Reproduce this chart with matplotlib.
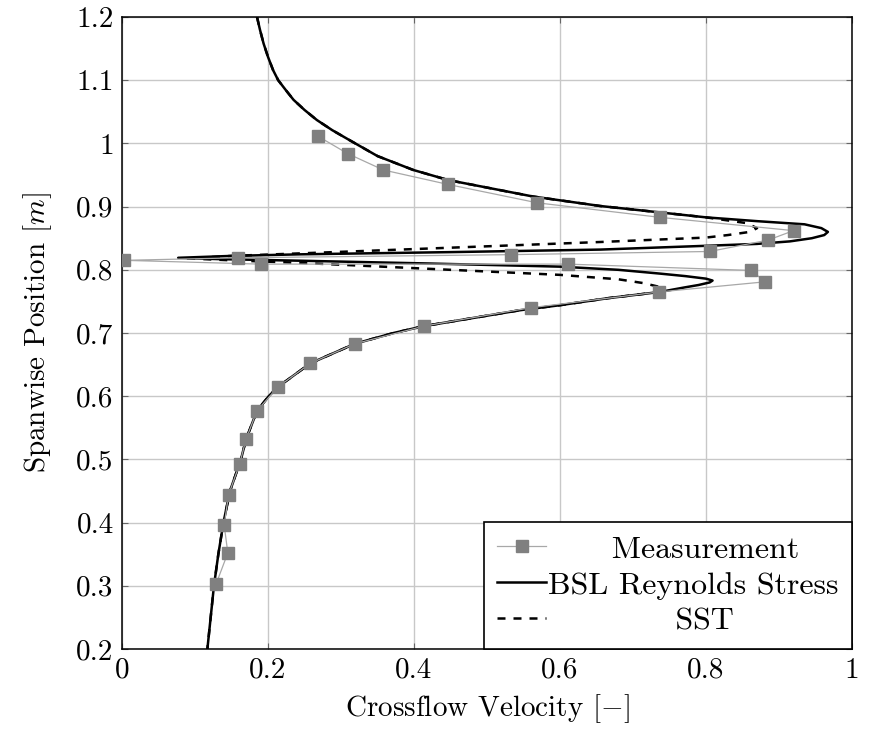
import numpy as np
import matplotlib
matplotlib.use("Agg")
import matplotlib.pyplot as plt
from matplotlib.ticker import FixedLocator, FuncFormatter

plt.rcParams["font.family"] = "serif"
plt.rcParams["font.serif"] = ["cmr10", "DejaVu Serif"]
plt.rcParams["mathtext.fontset"] = "cm"
plt.rcParams["axes.unicode_minus"] = False
plt.rcParams["axes.formatter.use_mathtext"] = True

meas_y = [1.011, 0.984, 0.958, 0.935, 0.906, 0.883, 0.862, 0.847, 0.829,
          0.824, 0.819, 0.815, 0.809, 0.809, 0.799, 0.781, 0.765, 0.740,
          0.711, 0.683, 0.652, 0.615, 0.577, 0.532, 0.492, 0.444, 0.396,
          0.352, 0.303]
meas_x = [0.269, 0.309, 0.358, 0.447, 0.569, 0.737, 0.920, 0.885, 0.805,
          0.533, 0.159, 0.003, 0.190, 0.611, 0.862, 0.881, 0.736, 0.560,
          0.414, 0.319, 0.258, 0.214, 0.185, 0.170, 0.161, 0.146, 0.140,
          0.145, 0.129]

# -- BSL Reynolds Stress profile -----------------------------------
bsl_y = [1.200, 1.180, 1.158, 1.137, 1.116, 1.100, 1.085, 1.069, 1.053,
         1.037, 1.021, 1.005, 0.980, 0.958, 0.942, 0.916, 0.901, 0.883,
         0.877, 0.872, 0.866, 0.860, 0.855, 0.850, 0.845, 0.841, 0.838,
         0.832, 0.828, 0.8245, 0.822, 0.819, 0.817, 0.8144, 0.810, 0.805,
         0.800, 0.794, 0.790, 0.786, 0.783, 0.780, 0.776, 0.772, 0.765,
         0.755, 0.744, 0.736, 0.711, 0.700, 0.683, 0.652, 0.615, 0.600,
         0.577, 0.550, 0.532, 0.500, 0.450, 0.400, 0.350, 0.300, 0.250,
         0.200]
bsl_x = [0.185, 0.189, 0.194, 0.200, 0.207, 0.214, 0.224, 0.235, 0.250,
         0.267, 0.288, 0.312, 0.350, 0.399, 0.447, 0.563, 0.655, 0.800,
         0.870, 0.935, 0.958, 0.967, 0.962, 0.945, 0.915, 0.870, 0.800,
         0.655, 0.450, 0.244, 0.150, 0.077, 0.130, 0.244, 0.420, 0.600,
         0.680, 0.737, 0.772, 0.800, 0.809, 0.805, 0.790, 0.770, 0.737,
         0.665, 0.600, 0.545, 0.414, 0.372, 0.319, 0.258, 0.214, 0.201,
         0.185, 0.176, 0.170, 0.163, 0.148, 0.139, 0.132, 0.126, 0.1215,
         0.117]

# -- SST profile ---------------------------------------------------
sst_y = [1.200, 1.180, 1.158, 1.137, 1.116, 1.100, 1.085, 1.069, 1.053,
         1.037, 1.021, 1.005, 0.980, 0.958, 0.942, 0.916, 0.901, 0.883,
         0.874, 0.866, 0.860, 0.855, 0.851, 0.844, 0.835, 0.826, 0.822,
         0.818, 0.815, 0.811, 0.800, 0.792, 0.785, 0.779, 0.772, 0.765,
         0.755, 0.744, 0.736, 0.711, 0.700, 0.683, 0.652, 0.615, 0.600,
         0.577, 0.550, 0.532, 0.500, 0.450, 0.400, 0.350, 0.300, 0.250,
         0.200]
sst_x = [0.185, 0.189, 0.194, 0.200, 0.207, 0.214, 0.224, 0.235, 0.250,
         0.267, 0.288, 0.312, 0.350, 0.399, 0.447, 0.563, 0.655, 0.800,
         0.855, 0.870, 0.860, 0.830, 0.800, 0.655, 0.450, 0.244, 0.150,
         0.090, 0.150, 0.244, 0.450, 0.600, 0.680, 0.714, 0.740, 0.737,
         0.665, 0.600, 0.545, 0.414, 0.372, 0.319, 0.258, 0.214, 0.201,
         0.185, 0.176, 0.170, 0.163, 0.148, 0.139, 0.132, 0.126, 0.1215,
         0.117]

x_ticks = [0, 0.2, 0.4, 0.6, 0.8, 1.0]
y_ticks = [0.2, 0.3, 0.4, 0.5, 0.6, 0.7, 0.8, 0.9, 1.0, 1.1, 1.2]

fig = plt.figure(figsize=(8.7, 7.31), dpi=100)
ax = fig.add_axes([0.1402, 0.1122, 0.8391, 0.8645])

ax.plot(meas_x, meas_y, color="#a8a8a8", lw=0.9, marker="s", ms=9,
        mfc="#808080", mec="#808080", label="      Measurement", zorder=5)
ax.plot(bsl_x, bsl_y, color="black", lw=1.8,
        label="BSL Reynolds Stress", zorder=3)
ax.plot(sst_x, sst_y, color="black", lw=1.8, ls=(0, (3.2, 3.2)),
        label="            SST", zorder=4)

ax.set_xlim(0, 1)
ax.set_ylim(0.2, 1.2)
ax.xaxis.set_major_locator(FixedLocator(x_ticks))
ax.yaxis.set_major_locator(FixedLocator(y_ticks))
fmt = FuncFormatter(lambda v, p: "%g" % round(v, 2))
ax.xaxis.set_major_formatter(fmt)
ax.yaxis.set_major_formatter(fmt)
ax.tick_params(labelsize=21, direction="in", length=4, color="#666666",
               top=True, right=True, pad=6)
ax.grid(True, color="#c8c8c8", lw=1.0)
ax.set_axisbelow(True)
for sp in ax.spines.values():
    sp.set_linewidth(1.1)

ax.set_xlabel(r"Crossflow Velocity $[-]$", fontsize=21, labelpad=6)
ax.set_ylabel(r"Spanwise Position $[m]$", fontsize=21, labelpad=16)

leg = ax.legend(loc="lower right", borderaxespad=0, fontsize=23,
                fancybox=False, framealpha=1, edgecolor="black",
                handlelength=1.55, handletextpad=0.05, labelspacing=0.24,
                borderpad=0.42)
leg.get_frame().set_linewidth(1.2)

plt.savefig("out.png", dpi=100)
plt.close()
